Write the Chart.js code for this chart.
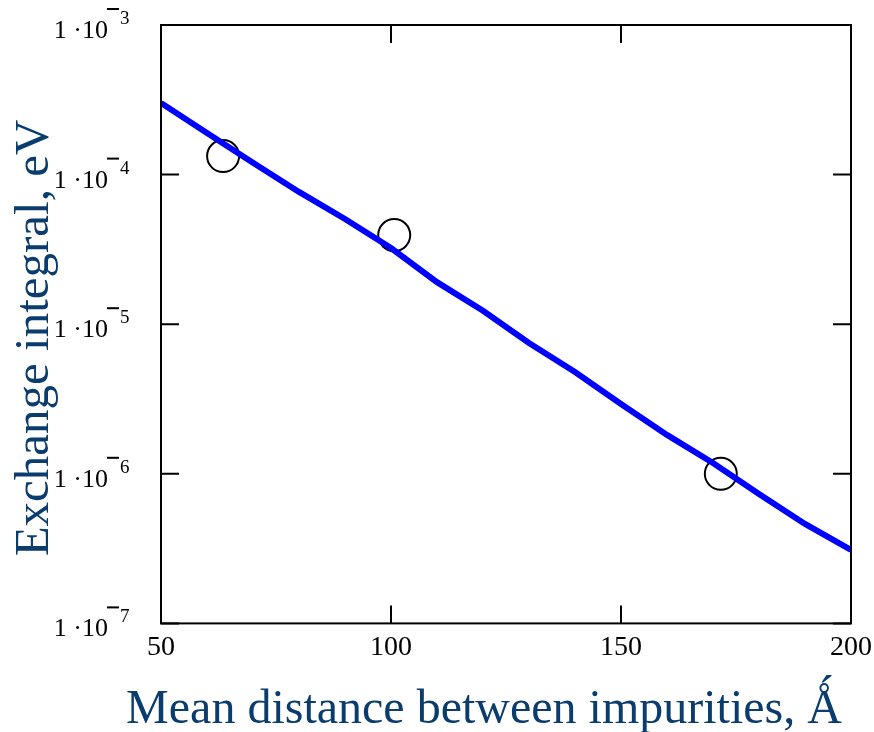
<!DOCTYPE html>
<html>
<head>
<meta charset="utf-8">
<script src="https://cdn.jsdelivr.net/npm/chart.js@4"></script>
<style>
  html, body { margin: 0; padding: 0; background: #fff; }
  #wrap { width: 874px; height: 732px; }
</style>
</head>
<body>
<div id="wrap"><canvas id="exchangeChart"></canvas></div>
<script>
// fitted curve (mean distance, A  ->  exchange integral, eV)
const fitDistance = [50, 60, 70, 80, 90, 100, 110, 120, 130, 140, 150, 160, 170, 180, 190, 200];
const fitExchange = [3.01e-4, 1.90e-4, 1.20e-4, 7.66e-5, 5.05e-5, 3.23e-5, 1.91e-5, 1.23e-5,
                     7.48e-6, 4.79e-6, 2.93e-6, 1.82e-6, 1.18e-6, 7.32e-7, 4.62e-7, 3.10e-7];

// measured points
const measDistance = [63.5, 100.7, 171.7];
const measExchange = [1.33e-4, 3.94e-5, 1.0e-6];

// axis ticks
const xTicks = [50, 100, 150, 200];
const yTicks = [1e-3, 1e-4, 1e-5, 1e-6, 1e-7];

const xTitle = 'Mean distance between impurities, \u01fa';
const yTitle = 'Exchange integral, eV';
const titleColor = '#0b3c6e';
const serif = "'Liberation Serif', 'Times New Roman', serif";

// box, inward ticks, the 1·10^-n labels and the axis titles
const frameAndLabels = {
    id: 'frameAndLabels',
    afterDatasetsDraw(chart) {
        const ctx = chart.ctx;
        const a = chart.chartArea;
        const xs = chart.scales.x;
        const ys = chart.scales.y;
        const tl = 18;
        ctx.save();
        ctx.strokeStyle = '#000';
        ctx.lineWidth = 2;
        ctx.strokeRect(a.left, a.top, a.right - a.left, a.bottom - a.top);
        ctx.beginPath();
        yTicks.forEach(v => {
            const py = ys.getPixelForValue(v);
            ctx.moveTo(a.left, py); ctx.lineTo(a.left + tl, py);
            ctx.moveTo(a.right, py); ctx.lineTo(a.right - tl, py);
        });
        xTicks.forEach(v => {
            const px = xs.getPixelForValue(v);
            ctx.moveTo(px, a.bottom); ctx.lineTo(px, a.bottom - tl);
            ctx.moveTo(px, a.top); ctx.lineTo(px, a.top + tl);
        });
        ctx.stroke();

        // y labels
        ctx.fillStyle = '#000';
        yTicks.forEach(v => {
            const py = ys.getPixelForValue(v);
            const exp = Math.round(Math.log10(v));
            ctx.font = '26px ' + serif;
            ctx.textAlign = 'right';
            ctx.textBaseline = 'alphabetic';
            ctx.fillText('1 \u00b710', 108, py + 13);
            // raised minus bar and exponent digit
            ctx.fillRect(107, py - 17, 12, 2);
            ctx.font = '19px ' + serif;
            ctx.textAlign = 'left';
            ctx.fillText(String(-exp), 120, py - 1);
        });

        // axis titles
        ctx.fillStyle = titleColor;
        ctx.font = '48px ' + serif;
        ctx.textAlign = 'center';
        ctx.textBaseline = 'alphabetic';
        ctx.fillText(xTitle, 484, 723);
        ctx.translate(48, 338);
        ctx.rotate(-Math.PI / 2);
        ctx.font = '49px ' + serif;
        ctx.fillText(yTitle, 0, 0);
        ctx.restore();
    }
};

const config = {
    type: 'line',
    data: {
        datasets: [{
            label: 'fit',
            data: fitDistance.map((d, i) => ({ x: d, y: fitExchange[i] })),
            borderColor: '#0000ff',
            borderWidth: 6,
            pointRadius: 0,
            tension: 0,
            fill: false,
            order: 0
        }, {
            label: 'data',
            data: measDistance.map((d, i) => ({ x: d, y: measExchange[i] })),
            showLine: false,
            pointRadius: 16,
            pointHoverRadius: 16,
            pointBorderWidth: 2,
            pointBorderColor: '#000',
            pointBackgroundColor: 'rgba(0,0,0,0)',
            order: 1
        }]
    },
    options: {
        responsive: true,
        maintainAspectRatio: false,
        animation: false,
        events: [],
        layout: { padding: { left: 161, right: 23, top: 25, bottom: 61 } },
        plugins: {
            legend: { display: false },
            tooltip: { enabled: false }
        },
        scales: {
            x: {
                type: 'linear',
                min: 50,
                max: 200,
                afterBuildTicks: (s) => { s.ticks = xTicks.map(v => ({ value: v })); },
                grid: { display: false, drawTicks: false },
                border: { display: false },
                ticks: {
                    color: '#000',
                    padding: 0,
                    font: { family: serif, size: 28, lineHeight: 1.7 }
                }
            },
            y: {
                type: 'logarithmic',
                min: 1e-7,
                max: 1e-3,
                afterBuildTicks: (s) => { s.ticks = yTicks.map(v => ({ value: v })); },
                grid: { display: false, drawTicks: false },
                border: { display: false },
                ticks: { display: false }
            }
        }
    },
    plugins: [frameAndLabels]
};

const exchangeChart = new Chart('exchangeChart', config);
</script>
</body>
</html>
